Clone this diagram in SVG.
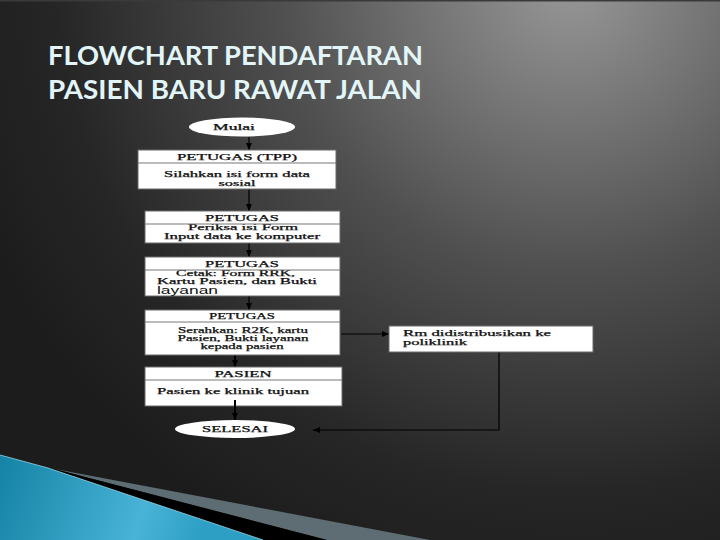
<svg xmlns="http://www.w3.org/2000/svg" width="720" height="540" viewBox="0 0 720 540">
<defs>
<radialGradient id="bg" gradientUnits="userSpaceOnUse" cx="570" cy="-20" r="640">
<stop offset="0" stop-color="#989898"/>
<stop offset="0.45" stop-color="#505050"/>
<stop offset="0.8" stop-color="#262626"/>
<stop offset="1" stop-color="#1c1c1c"/>
</radialGradient>
<linearGradient id="blue" gradientUnits="userSpaceOnUse" x1="0" y1="470" x2="200" y2="540">
<stop offset="0" stop-color="#1684a6"/>
<stop offset="0.7" stop-color="#48b3d6"/>
<stop offset="1" stop-color="#2d9fc4"/>
</linearGradient>
<marker id="ah" markerUnits="userSpaceOnUse" markerWidth="8" markerHeight="7" refX="7" refY="3" orient="auto">
<path d="M0,0 L7,3 L0,6 z" fill="#000"/>
</marker>
<style>
.title{font-family:Lato,"Liberation Sans",sans-serif;font-size:27px;font-weight:bold;fill:#e2f5f8}
.box{fill:#fff;stroke:#6a6a6a;stroke-width:1}
.div{stroke:#777;stroke-width:1}
.el{fill:#fff}
.t{font-family:"Liberation Serif","Times New Roman",serif;font-size:8px;fill:#111;stroke:#111;stroke-width:0.25}
.c{text-anchor:middle}
.conn{stroke:#000;stroke-width:1.2;fill:none}
.thick{stroke-width:2}
</style>
</defs>
<rect x="0" y="0" width="720" height="540" fill="url(#bg)"/>
<rect x="0" y="0" width="720" height="1.5" fill="#3a3a3a"/>
<g id="swoosh">
<polygon points="55,469 430,540 327,540" fill="#5d6d73"/>
<polygon points="48,468 58,470 327,540 263,540" fill="#000"/>
<polygon points="0,455 48,468 263,540 0,540" fill="url(#blue)"/>
<polyline points="0,455 48,468 263,540" fill="none" stroke="#8fd6ea" stroke-width="0.8"/>
</g>
<g id="title">
<text class="title" x="48" y="65" textLength="375" lengthAdjust="spacingAndGlyphs">FLOWCHART PENDAFTARAN</text>
<text class="title" x="48" y="99" textLength="374" lengthAdjust="spacingAndGlyphs">PASIEN BARU RAWAT JALAN</text>
</g>
<g id="connectors">
<line class="conn" x1="249" y1="137" x2="249" y2="150" marker-end="url(#ah)"/>
<line class="conn" x1="249" y1="189" x2="249" y2="211" marker-end="url(#ah)"/>
<line class="conn" x1="249" y1="243" x2="249" y2="257" marker-end="url(#ah)"/>
<line class="conn" x1="249" y1="296" x2="249" y2="310" marker-end="url(#ah)"/>
<line class="conn thick" x1="235" y1="355" x2="235" y2="367" marker-end="url(#ah)"/>
<line class="conn" x1="341" y1="334" x2="389" y2="334" marker-end="url(#ah)"/>
<polyline class="conn" points="499,352 499,430 313,430" marker-end="url(#ah)"/>
</g>
<g id="mulai">
<ellipse class="el" cx="242" cy="127" rx="53" ry="9.5"/>
<text class="t c" x="234" y="130" font-size="9" textLength="42" lengthAdjust="spacingAndGlyphs">Mulai</text>
</g>
<g id="petugas-tpp">
<rect class="box" x="138" y="150" width="198" height="39"/>
<line class="div" x1="138" y1="163" x2="336" y2="163"/>
<text class="t c" x="237" y="160" font-size="9" textLength="120" lengthAdjust="spacingAndGlyphs">PETUGAS (TPP)</text>
<text class="t c" x="237" y="176.5" font-size="9" textLength="146" lengthAdjust="spacingAndGlyphs">Silahkan isi form data</text>
<text class="t c" x="237" y="185.5" textLength="37" lengthAdjust="spacingAndGlyphs">sosial</text>
</g>
<g id="petugas-periksa">
<rect class="box" x="145" y="211" width="195" height="32"/>
<text class="t c" x="242" y="221" textLength="74" lengthAdjust="spacingAndGlyphs">PETUGAS</text>
<text class="t c" x="243" y="230" textLength="110" lengthAdjust="spacingAndGlyphs">Periksa isi Form</text>
<line class="div" x1="145" y1="224" x2="340" y2="224"/>
<text class="t c" x="242" y="239" textLength="156" lengthAdjust="spacingAndGlyphs">Input data ke komputer</text>
</g>
<g id="petugas-cetak">
<rect class="box" x="145" y="257" width="195" height="39"/>
<text class="t c" x="242" y="267" textLength="74" lengthAdjust="spacingAndGlyphs">PETUGAS</text>
<text class="t" x="176" y="275.5" textLength="119" lengthAdjust="spacingAndGlyphs">Cetak: Form RRK,</text>
<line class="div" x1="145" y1="270" x2="340" y2="270"/>
<text class="t" x="157" y="284" textLength="160" lengthAdjust="spacingAndGlyphs">Kartu Pasien, dan Bukti</text>
<text x="157" y="293.5" font-family="Liberation Sans, Arial, sans-serif" font-size="10" fill="#111" textLength="61" lengthAdjust="spacingAndGlyphs">layanan</text>
</g>
<g id="petugas-serahkan">
<rect class="box" x="145" y="310" width="195" height="45"/>
<line class="div" x1="145" y1="322" x2="340" y2="322"/>
<text class="t c" x="242" y="318.5" textLength="66" lengthAdjust="spacingAndGlyphs">PETUGAS</text>
<text class="t c" x="243" y="333" textLength="130" lengthAdjust="spacingAndGlyphs">Serahkan: R2K, kartu</text>
<text class="t c" x="243" y="341" textLength="131" lengthAdjust="spacingAndGlyphs">Pasien, Bukti layanan</text>
<text class="t c" x="242" y="349" textLength="83" lengthAdjust="spacingAndGlyphs">kepada pasien</text>
</g>
<g id="pasien">
<rect class="box" x="145" y="367" width="197" height="39"/>
<line class="div" x1="145" y1="380" x2="342" y2="380"/>
<text class="t c" x="243" y="377" font-size="9" textLength="57" lengthAdjust="spacingAndGlyphs">PASIEN</text>
<text class="t" x="157" y="394" font-size="9" textLength="152" lengthAdjust="spacingAndGlyphs">Pasien ke klinik tujuan</text>
</g>
<g id="rm">
<rect class="box" x="389" y="326" width="204" height="26"/>
<text class="t" x="403" y="336" textLength="148" lengthAdjust="spacingAndGlyphs">Rm didistribusikan ke</text>
<text class="t" x="403" y="345" textLength="64" lengthAdjust="spacingAndGlyphs">poliklinik</text>
</g>
<g id="selesai">
<ellipse class="el" cx="235" cy="429" rx="60" ry="9"/>
<text class="t c" x="235" y="432" font-size="9" textLength="66" lengthAdjust="spacingAndGlyphs">SELESAI</text>
</g>
<g id="connectors-over">
<line class="conn thick" x1="235" y1="400" x2="235" y2="420" marker-end="url(#ah)"/>
</g>
</svg>
